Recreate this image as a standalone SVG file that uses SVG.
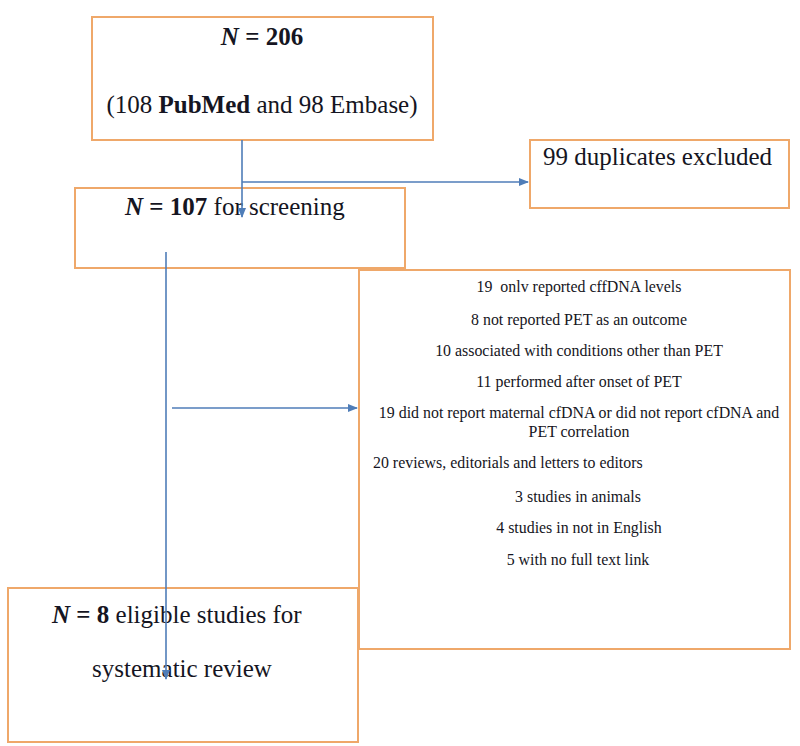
<svg xmlns="http://www.w3.org/2000/svg" width="800" height="746" viewBox="0 0 800 746">
<style>
.box{fill:#fff;stroke:#EFA86A;stroke-width:2}
.t{font-family:"Liberation Serif",serif;fill:#151522}
.big{font-size:25px}
.sm{font-size:15.9px}
.c{text-anchor:middle}
.b{font-weight:bold}
.bi{font-weight:bold;font-style:italic}
.ln{stroke:#4F7DB8;stroke-width:1.6;fill:none}
</style>
<defs>
<marker id="ah" markerWidth="10" markerHeight="8" refX="9" refY="4" orient="auto" markerUnits="userSpaceOnUse">
<path d="M0,0 L10,4 L0,8 Z" fill="#4F7DB8"/>
</marker>
</defs>
<rect width="800" height="746" fill="#fff"/>
<g id="n206">
<rect class="box" x="92" y="17" width="341" height="123"/>
<text class="t big c" x="262" y="45"><tspan class="bi">N</tspan><tspan class="b"> = 206</tspan></text>
<text class="t big c" x="262" y="113">(108 <tspan class="b">PubMed</tspan> and 98 Embase)</text>
</g>
<g id="duplicates">
<rect class="box" x="530" y="140" width="259" height="68"/>
<text class="t big" x="543" y="165">99 duplicates excluded</text>
</g>
<g id="screening">
<rect class="box" x="75" y="188" width="330" height="80"/>
<text class="t big" x="125" y="215"><tspan class="bi">N</tspan><tspan class="b"> = 107</tspan> for screening</text>
</g>
<g id="excluded">
<rect class="box" x="359" y="270" width="431" height="379"/>
<text class="t sm c" x="579" y="292" xml:space="preserve">19  onlv reported cffDNA levels</text>
<text class="t sm c" x="579" y="325">8 not reported PET as an outcome</text>
<text class="t sm c" x="579" y="356">10 associated with conditions other than PET</text>
<text class="t sm c" x="579" y="387">11 performed after onset of PET</text>
<text class="t sm c" x="579" y="418">19 did not report maternal cfDNA or did not report cfDNA and</text>
<text class="t sm c" x="579" y="437">PET correlation</text>
<text class="t sm" x="373" y="468">20 reviews, editorials and letters to editors</text>
<text class="t sm c" x="578" y="502">3 studies in animals</text>
<text class="t sm c" x="579" y="533">4 studies in not in English</text>
<text class="t sm c" x="578" y="565">5 with no full text link</text>
</g>
<g id="eligible">
<rect class="box" x="8" y="588" width="350" height="154"/>
<text class="t big" x="52" y="623"><tspan class="bi">N</tspan><tspan class="b"> = 8</tspan> eligible studies for</text>
<text class="t big c" x="182" y="677">systematic review</text>
</g>
<g id="connectors">
<line class="ln" x1="242" y1="140" x2="242" y2="217" marker-end="url(#ah)"/>
<line class="ln" x1="242" y1="182" x2="528" y2="182" marker-end="url(#ah)"/>
<line class="ln" x1="166" y1="252" x2="166" y2="679" marker-end="url(#ah)"/>
<line class="ln" x1="172" y1="408" x2="357" y2="408" marker-end="url(#ah)"/>
</g>
</svg>
